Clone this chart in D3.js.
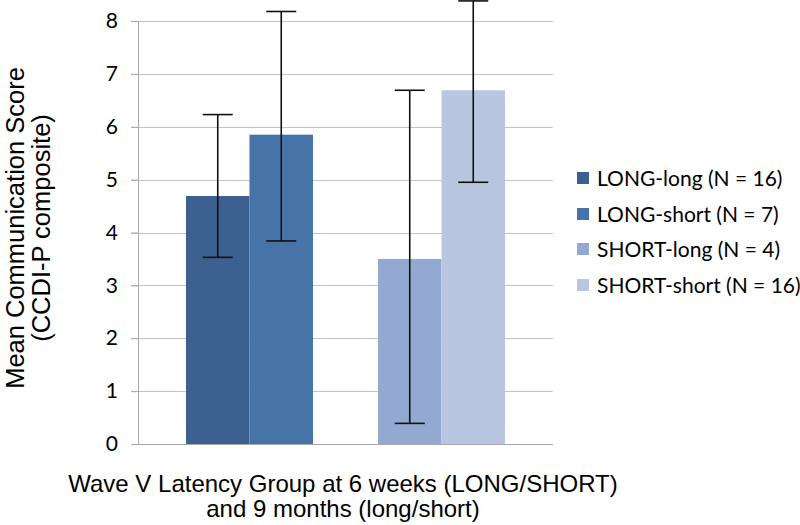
<!DOCTYPE html>
<html><head><meta charset="utf-8">
<script src="https://cdn.jsdelivr.net/npm/d3@7"></script>
<style>body{margin:0;background:#fff}svg{display:block}</style>
</head><body>
<svg id="c" width="800" height="525"></svg>
<script>
const groups = ["LONG", "SHORT"];
const seriesNames = ["LONG-long (N = 16)", "LONG-short (N = 7)", "SHORT-long (N = 4)", "SHORT-short (N = 16)"];
const seriesGroup = ["LONG", "LONG", "SHORT", "SHORT"];
const seriesSub = ["long", "short", "long", "short"];
const means = [4.69, 5.85, 3.50, 6.69];
const errLow = [3.53, 3.84, 0.39, 4.95];
const errHigh = [6.23, 8.18, 6.69, 8.38];
const yTicks = [0, 1, 2, 3, 4, 5, 6, 7, 8];
const colors = ["#3c6190", "#4673a8", "#93a9d1", "#b9c6df"];

const svg = d3.select("#c");
const pL = 138, pR = 553, pB = 444, pT = 21;
const y = d3.scaleLinear().domain([0, 8]).range([pB, pT]);
const x0 = d3.scaleBand().domain(groups).range([pL, pR]).paddingInner(0.3385).paddingOuter(0.25);
const x1 = d3.scaleBand().domain(["long", "short"]).range([0, x0.bandwidth()]);

// gridlines (extend left as tick marks)
svg.append("g").selectAll("line").data(yTicks.filter(d => d > 0)).join("line")
  .attr("x1", pL - 7).attr("x2", pR)
  .attr("y1", d => Math.round(y(d)) + 0.5).attr("y2", d => Math.round(y(d)) + 0.5)
  .attr("stroke", "#c3c3c3").attr("stroke-width", 1);

// tick labels via axis
const ya = svg.append("g").attr("transform", `translate(${pL},0)`)
  .call(d3.axisLeft(y).tickValues(yTicks).tickSize(7).tickPadding(13));
ya.select(".domain").remove();
ya.selectAll(".tick line").attr("stroke", "#a8a8a8");
ya.selectAll("text").attr("font-family", "Lato, 'Open Sans', sans-serif").attr("font-size", 21).attr("fill", "#000");

// bars
const data = means.map((m, i) => ({i, m, g: seriesGroup[i], s: seriesSub[i], lo: errLow[i], hi: errHigh[i]}));
svg.append("g").selectAll("rect").data(data).join("rect")
  .attr("x", d => x0(d.g) + x1(d.s))
  .attr("width", x1.bandwidth())
  .attr("y", d => y(d.m))
  .attr("height", d => y(0) - y(d.m))
  .attr("fill", d => colors[d.i]);

// axes lines
svg.append("line").attr("x1", pL + 0.5).attr("x2", pL + 0.5).attr("y1", pT).attr("y2", pB).attr("stroke", "#a8a8a8");
svg.append("line").attr("x1", pL - 7).attr("x2", pR).attr("y1", pB + 0.5).attr("y2", pB + 0.5).attr("stroke", "#a8a8a8");

// error bars
const eb = svg.append("g").attr("stroke", "#111").attr("stroke-width", 1.6);
data.forEach(d => {
  const cx = x0(d.g) + x1(d.s) + x1.bandwidth() / 2;
  eb.append("line").attr("x1", cx).attr("x2", cx).attr("y1", y(d.hi)).attr("y2", y(d.lo));
  eb.append("line").attr("x1", cx - 15).attr("x2", cx + 15).attr("y1", y(d.hi)).attr("y2", y(d.hi));
  eb.append("line").attr("x1", cx - 15).attr("x2", cx + 15).attr("y1", y(d.lo)).attr("y2", y(d.lo));
});

// legend
const lg = svg.append("g").attr("transform", "translate(577,0)");
const ly = [178, 214, 249, 285];
seriesNames.forEach((n, i) => {
  lg.append("rect").attr("x", 0).attr("y", ly[i] - 6).attr("width", 12).attr("height", 12).attr("fill", colors[i]);
  lg.append("text").attr("x", 20).attr("y", ly[i]).attr("dy", "0.36em")
    .attr("font-family", "Lato, 'Open Sans', sans-serif").attr("font-size", 21).text(n);
});

// axis titles
const xt = svg.append("text").attr("text-anchor", "middle").attr("font-family", "'Liberation Sans', Arial, sans-serif").attr("font-size", 24);
xt.append("tspan").attr("x", 343).attr("y", 492).text("Wave V Latency Group at 6 weeks (LONG/SHORT)");
xt.append("tspan").attr("x", 343).attr("y", 517).text("and 9 months (long/short)");

const yt = svg.append("text").attr("text-anchor", "middle").attr("font-family", "'Liberation Sans', Arial, sans-serif").attr("font-size", 25.5)
  .attr("transform", "translate(0,228) rotate(-90)");
yt.append("tspan").attr("x", 0).attr("y", 24).text("Mean Communication Score");
yt.append("tspan").attr("x", 0).attr("y", 50).text("(CCDI-P composite)");
</script>
</body></html>
